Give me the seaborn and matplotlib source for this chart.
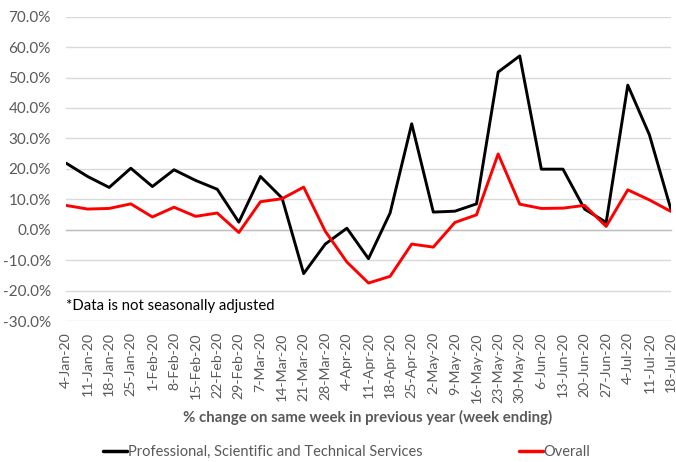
import numpy as np
import pandas as pd
import matplotlib
matplotlib.use("Agg")
import matplotlib.pyplot as plt
import seaborn as sns
from matplotlib.ticker import FuncFormatter

WEEKS = [
    "4-Jan-20", "11-Jan-20", "18-Jan-20", "25-Jan-20", "1-Feb-20", "8-Feb-20",
    "15-Feb-20", "22-Feb-20", "29-Feb-20", "7-Mar-20", "14-Mar-20", "21-Mar-20",
    "28-Mar-20", "4-Apr-20", "11-Apr-20", "18-Apr-20", "25-Apr-20", "2-May-20",
    "9-May-20", "16-May-20", "23-May-20", "30-May-20", "6-Jun-20", "13-Jun-20",
    "20-Jun-20", "27-Jun-20", "4-Jul-20", "11-Jul-20", "18-Jul-20",
]
PROF = [21.9, 17.5, 13.9, 20.2, 14.2, 19.7, 16.2, 13.3, 2.5, 17.5, 10.4, -14.4,
        -4.7, 0.5, -9.5, 5.5, 34.8, 5.8, 6.1, 8.5, 51.8, 57.1, 19.9, 19.9,
        6.8, 2.4, 47.5, 31.2, 6.6]
OVERALL = [8.0, 6.8, 7.0, 8.5, 4.2, 7.4, 4.4, 5.5, -0.9, 9.2, 10.2, 14.0,
           -0.5, -10.6, -17.5, -15.3, -4.7, -5.7, 2.4, 4.9, 24.9, 8.4, 7.0, 7.1,
           8.0, 1.1, 13.1, 9.8, 6.0]
SERIES = ["Professional, Scientific and Technical Services", "Overall"]
YTICKS = list(range(-30, 71, 10))

GRAY = "#595959"
GRID = "#d9d9d9"

sns.set_style("white")
plt.rcParams["font.family"] = ["Lato", "DejaVu Sans"]

df = pd.DataFrame({
    "idx": list(range(len(WEEKS))) * 2,
    "value": PROF + OVERALL,
    "series": [SERIES[0]] * len(WEEKS) + [SERIES[1]] * len(WEEKS),
})

fig = plt.figure(figsize=(6.76, 4.62), dpi=100)
ax = fig.add_axes([0.0976, 0.305, 0.895, 0.659])

sns.lineplot(data=df, x="idx", y="value", hue="series", hue_order=SERIES,
             palette=["black", "#ff0000"], linewidth=2.1, sort=False,
             legend=False, ax=ax, zorder=3)

ax.set_xlim(0, len(WEEKS) - 1)
ax.set_ylim(-30, 70)
ax.set_yticks(YTICKS)
ax.yaxis.set_major_formatter(FuncFormatter(lambda v, _: f"{v:.1f}%"))
ax.grid(axis="y", color=GRID, linewidth=1.0, zorder=0)
ax.tick_params(axis="y", length=0, labelsize=11, labelcolor=GRAY, pad=11)

for s in ["top", "right", "left"]:
    ax.spines[s].set_visible(False)
ax.spines["bottom"].set_position(("data", 0))
ax.spines["bottom"].set_color("#bfbfbf")
ax.spines["bottom"].set_linewidth(1.0)
ax.set_xticks(range(len(WEEKS)))
ax.tick_params(axis="x", direction="out", length=5, color="#bfbfbf",
               labelbottom=False)
ax.set_xlabel("")
ax.set_ylabel("")

# category labels sit below the plot area, not on the zero line
sec = ax.secondary_xaxis(0.0)
sec.set_xticks(range(len(WEEKS)))
sec.set_xticklabels(WEEKS, rotation=90, ha="center", va="top")
sec.tick_params(length=0, labelsize=10.2, labelcolor=GRAY, pad=8)
sec.spines["bottom"].set_visible(False)

ax.text(0.0, 0.05, "*Data is not seasonally adjusted", transform=ax.transAxes,
        fontsize=10.7, color="black", ha="left", va="center")

fig.text(368 / 676, 1 - 417 / 462,
         "% change on same week in previous year (week ending)",
         fontsize=10.8, fontweight="bold", color=GRAY, ha="center", va="center")

handles = [plt.Line2D([], [], color="black", linewidth=2.5),
           plt.Line2D([], [], color="#ff0000", linewidth=2.5)]
leg = fig.legend(handles, SERIES, loc="center left",
                 bbox_to_anchor=(103 / 676, 1 - 452 / 462), ncol=2,
                 frameon=False, fontsize=10.5, handlelength=1.65,
                 handletextpad=0.05, columnspacing=6.6, borderaxespad=0,
                 borderpad=0)
for t in leg.get_texts():
    t.set_color(GRAY)

fig.savefig("out.png", dpi=100)
